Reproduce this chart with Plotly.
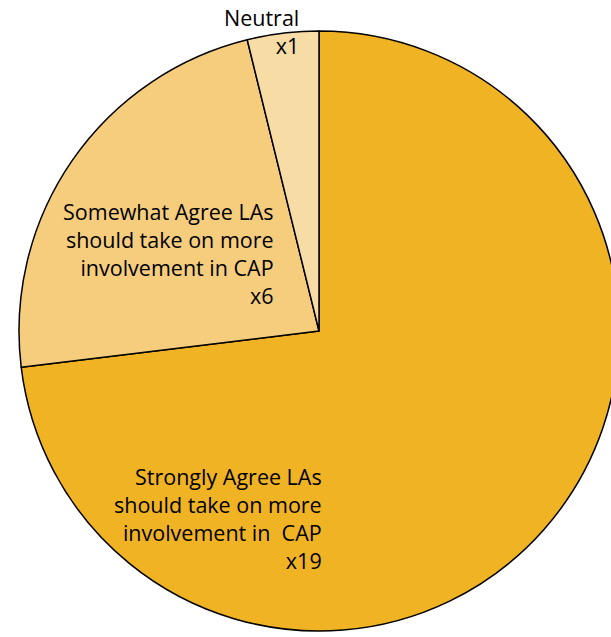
import plotly.graph_objects as go

# Survey responses: should local authorities take on more involvement in CAP?
categories = [
    "Strongly Agree LAs<br>should take on more<br>involvement in  CAP",
    "Somewhat Agree LAs<br>should take on more<br>involvement in CAP",
    "Neutral",
]
counts = [19, 6, 1]
colors = ["#F0B323", "#F5CD7D", "#F8DCA6"]

# label placement (paper coordinates) for each slice
label_x = [0.508, 0.428, 0.470]
label_y = [0.187, 0.630, 1.0]

W, H = 630, 637
L, R, T, B = 19, 11, 31, 6

fig = go.Figure(
    go.Pie(
        labels=categories,
        values=counts,
        sort=False,
        direction="clockwise",
        rotation=0,
        marker=dict(colors=colors, line=dict(color="#000000", width=1.5)),
        textinfo="none",
        hoverinfo="label+value",
        showlegend=False,
        domain=dict(x=[0, 1], y=[0, 1]),
    )
)

for cat, n, x, y in zip(categories, counts, label_x, label_y):
    fig.add_annotation(
        text=f"{cat}<br>x{n}",
        x=x, y=y, xref="paper", yref="paper",
        xanchor="right", yanchor="middle", align="right",
        showarrow=False,
        font=dict(family="Open Sans", size=21.5, color="#000000"),
    )

fig.update_layout(
    width=W, height=H,
    margin=dict(l=L, r=R, t=T, b=B),
    paper_bgcolor="white",
    plot_bgcolor="white",
)

fig.write_html("out.html")
